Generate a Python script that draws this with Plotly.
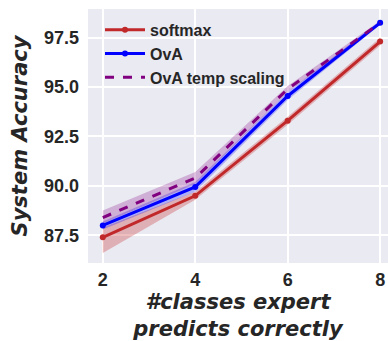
import plotly.graph_objects as go

x_vals = [2, 4, 6, 8]
softmax = [87.4, 89.5, 93.3, 97.3]
softmax_lo = [86.6, 89.3, 93.1, 97.1]
softmax_hi = [87.9, 89.7, 93.5, 97.5]
ova = [88.0, 89.95, 94.55, 98.25]
ova_lo = [87.8, 89.7, 94.35, 98.15]
ova_hi = [88.2, 90.2, 94.75, 98.35]
ova_ts = [88.4, 90.4, 94.9, 98.25]
ova_ts_lo = [88.1, 90.1, 94.75, 98.15]
ova_ts_hi = [88.75, 90.7, 95.05, 98.35]

series = [
    ("softmax", softmax, softmax_lo, softmax_hi, "#C0282A", "rgba(200,40,42,0.3)", "solid", 6),
    ("OvA", ova, ova_lo, ova_hi, "#0000FF", "rgba(0,0,255,0.25)", "solid", 6),
    ("OvA temp scaling", ova_ts, ova_ts_lo, ova_ts_hi, "#800080", "rgba(128,0,128,0.25)", "dash", 0),
]

fig = go.Figure()
for name, y, lo, hi, col, fill, dash, ms in series:
    fig.add_trace(go.Scatter(x=x_vals, y=hi, mode="lines", line=dict(width=0),
                             showlegend=False, hoverinfo="skip"))
    fig.add_trace(go.Scatter(x=x_vals, y=lo, mode="lines", line=dict(width=0),
                             fill="tonexty", fillcolor=fill, showlegend=False, hoverinfo="skip"))
for name, y, lo, hi, col, fill, dash, ms in series:
    fig.add_trace(go.Scatter(x=x_vals, y=y, name=name,
                             mode="lines+markers" if ms else "lines",
                             line=dict(color=col, width=3, dash=dash),
                             marker=dict(size=ms, color=col)))

fig.update_layout(
    width=388, height=341,
    margin=dict(l=88, r=0, t=9, b=76),
    paper_bgcolor="white",
    plot_bgcolor="#EAEAF2",
    font=dict(family="Liberation Sans", color="#262626"),
    legend=dict(x=0.04, y=0.985, xanchor="left", yanchor="top", traceorder="normal",
                bgcolor="rgba(0,0,0,0)", font=dict(size=16, family="Liberation Sans", weight="bold"),
                tracegroupgap=0, itemwidth=40),
    showlegend=True,
)
fig.update_xaxes(range=[1.68, 8.17], tickvals=[2, 4, 6, 8], showgrid=True, gridcolor="white",
                 gridwidth=1.5, zeroline=False, showline=False, ticks="", ticklabelstandoff=4,
                 tickfont=dict(size=18, weight="bold"),
                 title=dict(text="#classes expert<br>predicts correctly",
                            font=dict(size=21, family="DejaVu Sans", weight="bold", style="italic"),
                            standoff=9))
fig.update_yaxes(range=[86.1, 98.95], tickvals=[87.5, 90.0, 92.5, 95.0, 97.5],
                 ticktext=["87.5", "90.0", "92.5", "95.0", "97.5"],
                 showgrid=True, gridcolor="white", gridwidth=1.5, zeroline=False, showline=False,
                 ticks="", ticklabelstandoff=8, tickfont=dict(size=18, weight="bold"),
                 title=dict(text="System Accuracy",
                            font=dict(size=21, family="DejaVu Sans", weight="bold", style="italic"),
                            standoff=10))
fig.write_html("out.html", config={"displayModeBar": False},
               post_script="document.body.style.margin='0px';")
